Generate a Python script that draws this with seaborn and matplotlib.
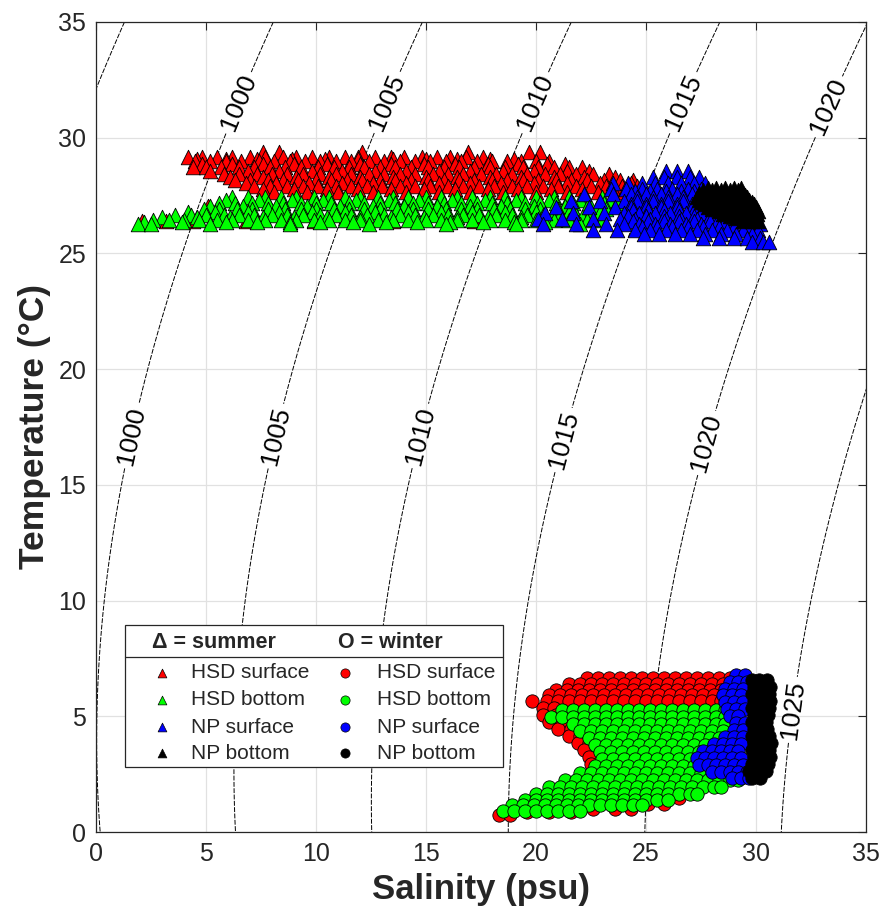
import numpy as np
import pandas as pd
import matplotlib
matplotlib.use("Agg")
import matplotlib.pyplot as plt
import seaborn as sns
from matplotlib.patches import Rectangle
from matplotlib.lines import Line2D

# ---------------------------------------------------------------------------
# Observations, grouped as rows of (temperature, [salinities]) per cruise line
# ---------------------------------------------------------------------------
summer_hsd_surface = [
    (29.38, [7.6, 8.3, 12.1, 16.9, 19.7, 20.2]),
    (29.18, [4.2, 4.8, 5.5, 6.2, 7.0, 7.7, 8.5, 9.1, 9.8, 10.6, 11.3, 11.9, 12.7,
             13.4, 14.0, 14.8, 15.5, 16.1, 16.8, 17.6]),
    (29.08, [4.6, 5.9, 7.3, 8.9, 10.4, 11.9, 13.5, 15.0, 16.4, 17.9, 19.0]),
    (29.00, [4.5, 5.2, 5.9, 6.6, 7.4, 8.1, 8.8, 9.5, 10.2, 10.9, 11.6, 12.4, 13.1,
             13.8, 14.5, 15.2, 15.9, 16.6, 17.3, 18.0, 18.7, 19.3, 20.0, 20.6]),
    (28.85, [4.8, 6.2, 7.6, 9.0, 10.5, 12.0, 13.4, 14.9, 16.3, 17.8, 19.2, 20.5, 21.3]),
    (28.72, [4.4, 5.0, 5.7, 6.5, 7.2, 7.9, 8.6, 9.3, 10.1, 10.8, 11.5, 12.2, 12.9,
             13.6, 14.3, 15.1, 15.8, 16.5, 17.2, 17.9, 18.6, 19.4, 20.1, 20.8, 21.5, 22.1]),
    (28.58, [5.2, 6.9, 8.3, 9.8, 11.2, 12.7, 14.1, 15.6, 17.0, 18.5, 19.9, 21.4, 22.4]),
    (28.45, [5.8, 6.5, 7.3, 8.0, 8.7, 9.4, 10.2, 10.9, 11.6, 12.4, 13.1, 13.8, 14.5,
             15.3, 16.0, 16.7, 17.5, 18.2, 18.9, 19.6, 20.4, 21.1, 21.8, 22.6, 23.3]),
    (28.30, [6.1, 7.6, 9.1, 10.6, 12.0, 13.5, 15.0, 16.4, 17.9, 19.3, 20.8, 22.2, 23.6]),
    (28.18, [6.3, 7.0, 7.8, 8.5, 9.2, 10.0, 10.7, 11.4, 12.1, 12.9, 13.6, 14.3, 15.1,
             15.8, 16.5, 17.2, 18.0, 18.7, 19.4, 20.1, 20.9, 21.6, 22.3, 23.1, 23.8, 24.4]),
    (28.05, [6.8, 8.2, 9.7, 11.2, 12.6, 14.1, 15.6, 17.0, 18.4, 19.9, 21.4, 22.9, 24.3]),
    (27.92, [7.2, 7.9, 8.7, 9.4, 10.1, 10.9, 11.6, 12.3, 13.0, 13.8, 14.5, 15.2, 16.0,
             16.7, 17.4, 18.1, 18.9, 19.6, 20.3, 21.0, 21.8, 22.5, 23.2, 23.9, 24.6]),
    (27.78, [7.6, 9.0, 10.5, 11.9, 13.4, 14.9, 16.3, 17.8, 19.2, 20.7, 22.1, 23.5]),
    (27.65, [8.1, 9.6, 11.0, 12.6, 14.1, 15.6, 17.0, 18.5, 20.0, 21.4, 22.8, 24.0]),
    (27.05, [5.1]),
    (26.40, [2.1, 3.2, 4.4, 6.8, 9.9, 13.5, 17.2]),
]

summer_hsd_bottom = [
    (27.45, [6.2, 6.9, 7.7, 8.4, 9.1, 9.9, 10.6, 11.3, 12.0, 12.8, 13.5, 14.2, 15.0,
             15.7, 16.4, 17.1, 17.9, 18.6, 19.3, 20.0, 20.8, 21.5, 22.2, 23.0]),
    (27.30, [5.9, 7.4, 8.9, 10.3, 11.8, 13.3, 14.7, 16.2, 17.7, 19.1, 20.6, 22.0, 23.4]),
    (27.17, [5.6, 6.3, 7.1, 7.8, 8.5, 9.3, 10.0, 10.7, 11.5, 12.2, 12.9, 13.6, 14.4,
             15.1, 15.8, 16.6, 17.3, 18.0, 18.7, 19.5, 20.2, 20.9, 21.7, 22.4, 23.1, 23.7]),
    (27.05, [5.2, 6.7, 8.2, 9.6, 11.1, 12.6, 14.0, 15.5, 17.0, 18.4, 19.9, 21.3, 22.8]),
    (26.92, [4.9, 5.6, 6.4, 7.1, 7.8, 8.6, 9.3, 10.0, 10.8, 11.5, 12.2, 12.9, 13.7,
             14.4, 15.1, 15.9, 16.6, 17.3, 18.1, 18.8, 19.5, 20.2, 21.0, 21.7, 22.4, 23.2]),
    (26.80, [4.2, 5.4, 6.9, 8.3, 9.8, 11.3, 12.7, 14.2, 15.7, 17.1, 18.6, 20.0, 21.5, 22.9]),
    (26.68, [3.6, 4.3, 5.0, 5.8, 6.5, 7.2, 8.0, 8.7, 9.4, 10.2, 10.9, 11.6, 12.3,
             13.1, 13.8, 14.5, 15.3, 16.0, 16.7, 17.4, 18.2, 18.9, 19.6, 20.3, 21.1, 21.8, 22.5]),
    (26.57, [3.0, 4.6, 6.1, 7.6, 9.0, 10.5, 12.0, 13.4, 14.9, 16.4, 17.8, 19.3, 20.7, 22.1]),
    (26.46, [2.6, 3.3, 4.0, 4.7, 5.5, 6.2, 6.9, 7.7, 8.4, 9.1, 9.9, 10.6, 11.3, 12.0,
             12.8, 13.5, 14.2, 15.0, 15.7, 16.4, 17.1, 17.9, 18.6, 19.3, 20.0, 20.8,
             21.5, 22.3, 23.0]),
    (26.37, [2.2, 3.9, 5.9, 7.3, 8.8, 10.2, 11.7, 13.2, 14.6, 16.1, 17.6, 19.0, 20.4, 21.9]),
    (26.28, [1.9, 2.5, 5.2, 8.8, 12.4, 15.9, 19.1, 22.0]),
]

summer_np_surface = [
    (28.55, [25.9, 26.4, 26.9]),
    (28.30, [25.3, 25.8, 26.4, 27.0, 27.4]),
    (28.05, [23.5, 24.2, 24.8, 25.4, 26.0, 26.6, 27.2, 27.7]),
    (27.80, [23.4, 24.1, 24.8, 25.5, 26.2, 26.9, 27.5]),
    (27.68, [24.5, 25.2, 25.9, 26.6, 27.2]),
    (27.55, [22.2, 23.5, 24.3, 25.0, 25.7, 26.4, 27.1, 27.8]),
    (27.42, [24.6, 25.3, 26.0, 26.7, 27.4]),
    (27.28, [21.6, 22.9, 24.0, 24.6, 25.3, 26.0, 26.7, 27.4, 28.1, 28.7]),
    (27.15, [24.3, 25.0, 25.7, 26.4, 27.1, 27.8, 28.4]),
    (27.02, [20.9, 22.4, 23.6, 24.3, 25.0, 25.7, 26.4, 27.1, 27.8, 28.5, 29.2, 29.7]),
    (26.88, [24.4, 25.1, 25.8, 26.5, 27.2, 27.9, 28.6, 29.3]),
    (26.75, [20.4, 21.7, 23.1, 24.0, 24.7, 25.4, 26.1, 26.8, 27.5, 28.2, 28.9, 29.6, 30.0]),
    (26.62, [24.2, 25.0, 25.8, 26.5, 27.2, 27.9, 28.6, 29.3, 29.8]),
    (26.50, [20.1, 21.2, 22.6, 23.8, 24.5, 25.2, 25.9, 26.6, 27.3, 28.0, 28.7, 29.4, 30.0]),
    (26.38, [24.4, 25.1, 25.8, 26.5, 27.2, 27.9, 28.6, 29.3, 29.9]),
    (26.25, [20.3, 21.8, 23.2, 24.0, 24.7, 25.4, 26.1, 26.8, 27.5, 28.2, 28.9, 29.6, 30.2]),
    (26.13, [24.8, 25.5, 26.2, 26.9, 27.6, 28.3, 29.0, 29.7]),
    (26.02, [22.6, 23.7, 24.5, 25.2, 25.9, 26.6, 27.3, 28.0, 28.7, 29.4, 30.1]),
    (25.85, [24.9, 25.6, 26.3, 27.0, 27.7, 28.4, 29.1, 29.8]),
    (25.68, [27.6, 28.3, 29.0, 29.6, 30.2]),
    (25.48, [29.8, 30.3, 30.6]),
]

summer_np_bottom = [
    (27.82, [27.8, 28.2, 28.6, 29.0, 29.3]),
    (27.72, [27.6, 28.0, 28.4, 28.8, 29.2]),
    (27.62, [27.4, 27.8, 28.2, 28.6, 29.0, 29.4]),
    (27.52, [27.5, 27.9, 28.3, 28.7, 29.1, 29.5]),
    (27.42, [27.3, 27.7, 28.1, 28.5, 28.9, 29.3, 29.6]),
    (27.32, [27.4, 27.8, 28.2, 28.6, 29.0, 29.4, 29.7]),
    (27.22, [27.5, 27.9, 28.3, 28.7, 29.1, 29.5, 29.8]),
    (27.12, [27.7, 28.1, 28.5, 28.9, 29.3, 29.7, 29.9]),
    (27.02, [27.8, 28.2, 28.6, 29.0, 29.4, 29.8, 30.0]),
    (26.92, [28.0, 28.4, 28.8, 29.2, 29.6, 30.0]),
    (26.82, [28.3, 28.7, 29.1, 29.5, 29.9, 30.1]),
    (26.72, [28.5, 28.9, 29.3, 29.7, 30.05]),
    (26.62, [28.8, 29.2, 29.6, 30.0]),
    (26.52, [29.1, 29.5, 29.9]),
    (26.42, [29.4, 29.8, 30.1]),
]

winter_hsd_surface = [
    (6.65, [22.3, 22.8, 23.3, 23.8, 24.3, 24.8, 25.3, 25.8, 26.3, 26.8, 27.3, 27.8, 28.3, 28.8]),
    (6.40, [21.5, 22.0, 22.5, 23.0, 23.5, 24.0, 24.5, 25.0, 25.5, 26.0, 26.5, 27.0,
            27.5, 28.0, 28.5, 29.0]),
    (6.15, [20.9, 21.4, 21.9, 22.4, 22.9, 23.4, 23.9, 24.4, 24.9, 25.4, 25.9, 26.4,
            26.9, 27.4, 27.9, 28.4, 28.9]),
    (5.90, [20.6, 21.1, 21.6, 22.1, 22.6, 23.1, 23.6, 24.1, 24.6, 25.1, 25.6, 26.1,
            26.6, 27.1, 27.6, 28.1, 28.6]),
    (5.68, [19.8, 20.5, 21.0, 21.5, 22.0, 22.5, 23.0, 23.5, 24.0, 24.5, 25.0, 25.5,
            26.0, 26.5, 27.0, 27.5, 28.0, 28.4]),
    (5.35, [20.3, 20.8]),
    (5.05, [20.3, 20.9]),
    (4.75, [20.6, 21.2]),
    (4.45, [21.0, 21.6]),
    (4.15, [21.5, 22.0]),
    (3.85, [21.9, 22.4]),
    (3.55, [22.2]),
    (3.25, [22.4]),
    (2.95, [22.5]),
    (0.72, [18.3, 18.8]),
    (0.85, [19.6, 20.6, 21.6]),
    (1.00, [22.6, 23.6, 24.3]),
    (1.20, [25.1, 25.8]),
    (1.45, [26.5]),
]

winter_hsd_bottom = [
    (5.28, [21.2, 21.7, 22.2, 22.7, 23.2, 23.7, 24.2, 24.7, 25.2, 25.7, 26.2, 26.7,
            27.2, 27.7, 28.2, 28.6]),
    (4.95, [20.7, 21.2, 21.7, 22.2, 22.7, 23.2, 23.7, 24.2, 24.7, 25.2, 25.7, 26.2,
            26.7, 27.2, 27.7, 28.2, 28.6]),
    (4.65, [21.7, 22.2, 22.7, 23.2, 23.7, 24.2, 24.7, 25.2, 25.7, 26.2, 26.7, 27.2,
            27.7, 28.2, 28.6]),
    (4.35, [22.0, 22.5, 23.0, 23.5, 24.0, 24.5, 25.0, 25.5, 26.0, 26.5, 27.0, 27.5, 28.0, 28.5]),
    (4.05, [22.4, 22.9, 23.4, 23.9, 24.4, 24.9, 25.4, 25.9, 26.4, 26.9, 27.4, 27.9, 28.3]),
    (3.75, [22.7, 23.2, 23.7, 24.2, 24.7, 25.2, 25.7, 26.2, 26.7, 27.2, 27.7, 28.1]),
    (3.45, [22.9, 23.4, 23.9, 24.4, 24.9, 25.4, 25.9, 26.4, 26.9, 27.4, 27.8]),
    (3.15, [23.0, 23.5, 24.0, 24.5, 25.0, 25.5, 26.0, 26.5, 27.0, 27.5]),
    (2.85, [22.7, 23.2, 23.7, 24.2, 24.7, 25.2, 25.7, 26.2, 26.7, 27.2, 27.7]),
    (2.55, [22.0, 22.5, 23.0, 23.5, 24.0, 24.5, 25.0, 25.5, 26.0, 26.5, 27.0, 27.5, 28.0, 28.4]),
    (2.25, [21.3, 21.8, 22.3, 22.8, 23.3, 23.8, 24.3, 24.8, 25.3, 25.8, 26.3, 26.8,
            27.3, 27.8, 28.3, 28.8, 29.2]),
    (1.95, [20.6, 21.1, 21.6, 22.1, 22.6, 23.1, 23.6, 24.1, 24.6, 25.1, 25.6, 26.1,
            26.6, 27.1, 27.6, 28.1, 28.4]),
    (1.65, [20.0, 20.5, 21.0, 21.5, 22.0, 22.5, 23.0, 23.5, 24.0, 24.5, 25.0, 25.5,
            26.0, 26.5, 27.0, 27.3]),
    (1.40, [19.5, 20.0, 20.5, 21.0, 21.5, 22.0, 22.5, 23.0, 23.5, 24.0, 24.5, 25.0, 25.5, 26.0]),
    (1.15, [18.9, 19.4, 19.9, 20.4, 20.9, 21.4, 21.9, 22.4, 22.9, 23.4, 23.9, 24.4, 24.8]),
    (0.92, [18.5, 19.0, 19.5, 20.0, 20.5, 21.0, 21.5, 22.0]),
]

winter_np_surface = [
    (6.78, [29.1, 29.5]),
    (6.50, [28.8, 29.2, 29.6]),
    (6.20, [28.6, 29.0, 29.4]),
    (5.90, [28.5, 28.9, 29.3]),
    (5.60, [28.6, 29.0, 29.4]),
    (5.30, [28.7, 29.1, 29.5]),
    (5.00, [28.8, 29.2]),
    (4.70, [29.1, 29.5]),
    (4.40, [29.0, 29.4]),
    (4.10, [28.6, 29.0, 29.4]),
    (3.80, [28.1, 28.5, 28.9, 29.3]),
    (3.50, [27.6, 28.0, 28.4, 28.8, 29.2]),
    (3.20, [27.3, 27.7, 28.1, 28.5, 28.9, 29.3]),
    (2.90, [27.4, 27.8, 28.2, 28.6, 29.0, 29.4]),
    (2.60, [28.0, 28.4, 28.8, 29.2, 29.6]),
    (2.35, [28.9, 29.3, 29.7]),
]

winter_np_bottom = [
    (6.55, [29.8, 30.15, 30.5]),
    (6.25, [29.9, 30.25, 30.65]),
    (5.95, [29.8, 30.2, 30.6]),
    (5.65, [29.9, 30.3, 30.65]),
    (5.35, [29.8, 30.2, 30.6]),
    (5.05, [29.9, 30.25, 30.55]),
    (4.75, [29.8, 30.15, 30.45]),
    (4.45, [29.9, 30.2, 30.5]),
    (4.15, [29.8, 30.2, 30.6]),
    (3.85, [29.9, 30.3, 30.7]),
    (3.55, [29.8, 30.2, 30.6]),
    (3.25, [29.9, 30.3, 30.65]),
    (2.95, [29.8, 30.2, 30.55]),
    (2.65, [29.7, 30.1, 30.45]),
    (2.35, [29.8, 30.2]),
]

sites = ["HSD surface", "HSD bottom", "NP surface", "NP bottom"]
site_colors = ["#ff0000", "#00ff00", "#0000ff", "#000000"]
density_levels = [995, 1000, 1005, 1010, 1015, 1020, 1025]
axis_ticks = [0, 5, 10, 15, 20, 25, 30, 35]

# contour labels: two rows along the isopycnals plus one for 1025
label_spots = [(6.5, 31.5), (13.3, 31.5), (20.0, 31.5), (26.7, 31.5), (33.4, 31.3),
               (1.7, 17.1), (8.2, 17.1), (14.8, 17.1), (21.4, 16.9), (27.8, 16.8),
               (31.5, 5.3)]


def rows_to_frame(rows, season, site):
    recs = [(s, t) for t, sal in rows for s in sal]
    df = pd.DataFrame(recs, columns=["salinity", "temperature"])
    df["season"] = season
    df["site"] = site
    return df


frames = [
    rows_to_frame(summer_hsd_surface, "summer", "HSD surface"),
    rows_to_frame(summer_hsd_bottom, "summer", "HSD bottom"),
    rows_to_frame(summer_np_surface, "summer", "NP surface"),
    rows_to_frame(summer_np_bottom, "summer", "NP bottom"),
    rows_to_frame(winter_hsd_surface, "winter", "HSD surface"),
    rows_to_frame(winter_hsd_bottom, "winter", "HSD bottom"),
    rows_to_frame(winter_np_surface, "winter", "NP surface"),
    rows_to_frame(winter_np_bottom, "winter", "NP bottom"),
]
obs = pd.concat(frames, ignore_index=True)


def rho_surface(S, T):
    """UNESCO (1980) equation of state of seawater at zero pressure, kg/m^3."""
    rw = (999.842594 + 6.793952e-2 * T - 9.095290e-3 * T**2 + 1.001685e-4 * T**3
          - 1.120083e-6 * T**4 + 6.536332e-9 * T**5)
    a = (8.24493e-1 - 4.0899e-3 * T + 7.6438e-5 * T**2 - 8.2467e-7 * T**3
         + 5.3875e-9 * T**4)
    b = -5.72466e-3 + 1.0227e-4 * T - 1.6546e-6 * T**2
    c = 4.8314e-4
    return rw + a * S + b * S**1.5 + c * S**2


sns.set_style("white")
plt.rcParams["font.family"] = ["Liberation Sans", "DejaVu Sans"]
ink = "#262626"

fig = plt.figure(figsize=(8.82, 9.15), dpi=100)
ax = fig.add_axes([0.1088, 0.0907, 0.873, 0.8853])
ax.set_xlim(0, 35)
ax.set_ylim(0, 35)

# isopycnals
sal_grid = np.linspace(0, 36, 361)
tmp_grid = np.linspace(-1, 36, 371)
SS, TT = np.meshgrid(sal_grid, tmp_grid)
cs = ax.contour(SS, TT, rho_surface(SS, TT), levels=density_levels, colors="k",
                linewidths=0.7, linestyles=[(0, (5, 1.5))], zorder=1)
ax.clabel(cs, manual=label_spots, fmt="%d", fontsize=19, inline=True,
          inline_spacing=4, colors="k")

# observations
marker_for = {"summer": "^", "winter": "o"}
size_for = {"summer": 110, "winter": 92}
for season in ["summer", "winter"]:
    for site, col in zip(sites, site_colors):
        sub = obs[(obs["season"] == season) & (obs["site"] == site)]
        sns.scatterplot(data=sub, x="salinity", y="temperature", ax=ax,
                        marker=marker_for[season], s=size_for[season], color=col,
                        edgecolor="k", linewidth=0.6, legend=False, zorder=3)

# axes styling
ax.set_xticks(axis_ticks)
ax.set_yticks(axis_ticks)
ax.grid(True, color="#e1e1e1", linewidth=0.9)
ax.set_axisbelow(True)
for sp in ax.spines.values():
    sp.set_visible(True)
    sp.set_color(ink)
    sp.set_linewidth(0.9)
ax.tick_params(direction="in", length=6, width=0.8, top=True, right=True,
               labelsize=18, colors=ink, pad=7)
ax.set_xlabel("Salinity (psu)", fontsize=25, fontweight="bold", color=ink, labelpad=5)
ax.set_ylabel("Temperature (\u00b0C)", fontsize=25.5, fontweight="bold", color=ink, labelpad=5)

# two-column legend box: summer triangles / winter circles
tr = ax.transAxes
bx0, bx1, by0, by1 = 0.0377, 0.5286, 0.0802, 0.2556
ax.add_patch(Rectangle((bx0, by0), bx1 - bx0, by1 - by0, transform=tr,
                       facecolor="white", edgecolor=ink, linewidth=0.9, zorder=10))
ax.add_line(Line2D([bx0, bx1], [0.216, 0.216], transform=tr, color=ink,
                   linewidth=0.9, zorder=11))
ax.text(0.0727, 0.2345, "\u0394 = summer", transform=tr, fontsize=15.5,
        fontweight="bold", va="center", ha="left", zorder=12)
ax.text(0.314, 0.2345, "O = winter", transform=tr, fontsize=15.5,
        fontweight="bold", va="center", ha="left", zorder=12)
row_y = [0.1963, 0.1630, 0.1296, 0.0975]
for site, col, yy in zip(sites, site_colors, row_y):
    ax.scatter([0.0857], [yy], transform=tr, marker="^", s=40, color=col,
               edgecolor="k", linewidth=0.5, zorder=12, clip_on=False)
    ax.scatter([0.3234], [yy], transform=tr, marker="o", s=44, color=col,
               edgecolor="k", linewidth=0.5, zorder=12, clip_on=False)
    ax.text(0.1234, yy, site, transform=tr, fontsize=15, va="center", ha="left", zorder=12)
    ax.text(0.365, yy, site, transform=tr, fontsize=15, va="center", ha="left", zorder=12)

fig.savefig("out.png", dpi=100)
